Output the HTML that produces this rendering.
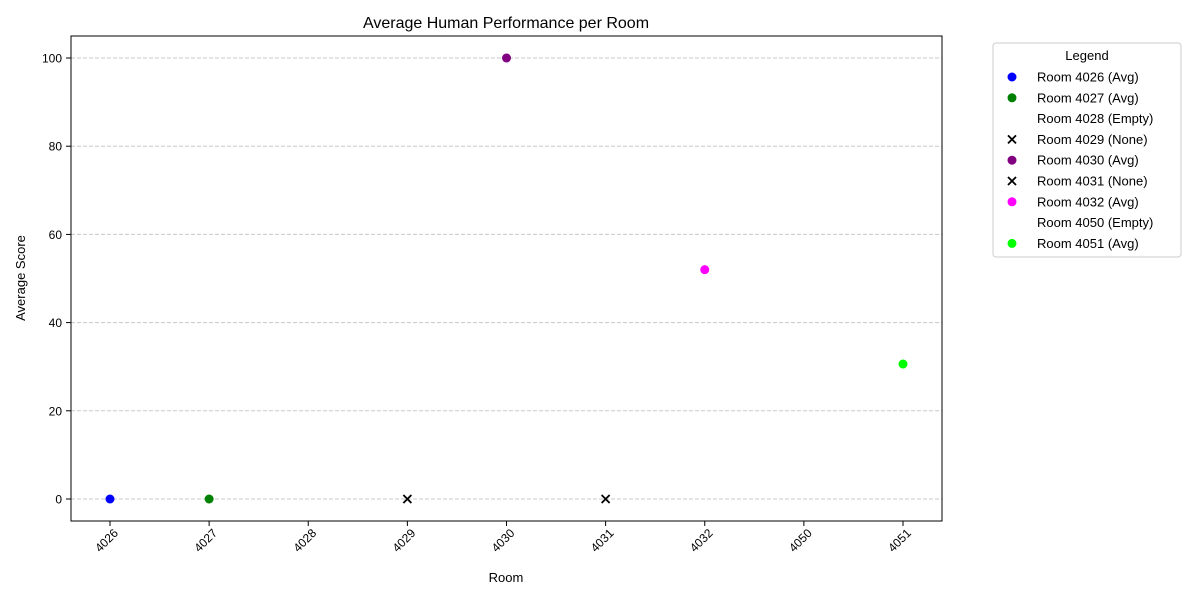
<!DOCTYPE html>
<html><head><meta charset="utf-8"><style>
body{margin:0;background:#fff;font-family:"Liberation Sans","DejaVu Sans",sans-serif}
</style></head><body>
<svg id="chart" width="1200" height="600" xmlns="http://www.w3.org/2000/svg" font-family="Liberation Sans, DejaVu Sans, sans-serif">
<text x="506" y="28" font-size="16" text-anchor="middle">Average Human Performance per Room</text>
<g id="grid"></g>
<rect x="71" y="36" width="871" height="485" fill="none" stroke="#000" stroke-width="1"/>
<g id="axes"></g>
<g id="marks"></g>
<text x="506" y="582" font-size="13" text-anchor="middle">Room</text>
<text x="25" y="278" font-size="13" text-anchor="middle" transform="rotate(-90 25 278)">Average Score</text>
<g id="legend">
<rect x="993" y="43" width="188" height="214" rx="3" fill="#fff" stroke="#ccc"/>
<text x="1087" y="60" font-size="13" text-anchor="middle">Legend</text>
</g>
</svg>
<script>
const categories=["4026","4027","4028","4029","4030","4031","4032","4050","4051"];
const scores=[0,0,null,0,100,0,52,null,30.6];
const kinds=["Avg","Avg","Empty","None","Avg","None","Avg","Empty","Avg"];
const colors=["#0000ff","#008000","none","#000","#800080","#000","#ff00ff","none","#00ff00"];
const yTicks=[0,20,40,60,80,100];
const NS="http://www.w3.org/2000/svg";
const xS=i=>110+i*99.125;
const yS=v=>499-v*4.41;
function mk(tag,attrs,parent){const e=document.createElementNS(NS,tag);for(const k in attrs)e.setAttribute(k,attrs[k]);parent.appendChild(e);return e;}
const grid=document.getElementById('grid'),axes=document.getElementById('axes'),marks=document.getElementById('marks'),leg=document.getElementById('legend');
yTicks.forEach(t=>{const y=yS(t);
 const g=mk('line',{x1:71,x2:942,y1:y,y2:y,stroke:'#c8c8c8','stroke-dasharray':'4,2'},grid);
 
 
 mk('line',{x1:66,x2:71,y1:y,y2:y,stroke:'#000'},axes);
 const tx=mk('text',{x:62,y:y+4.5,'font-size':12,'text-anchor':'end'},axes);tx.textContent=t;
 
 
});
categories.forEach((c,i)=>{const x=xS(i);
 mk('line',{x1:x,x2:x,y1:521,y2:526,stroke:'#000'},axes);
 const ax=x+6, ay=531;
 const tx=mk('text',{x:ax,y:ay+4,'font-size':12,'text-anchor':'end',transform:`rotate(-45 ${ax} ${ay})`},axes);tx.textContent=c;
 
 
});
function marker(kind,color,x,y,parent){
 if(kind==='Avg'){return mk('circle',{cx:x,cy:y,r:4.5,fill:color},parent);}
 if(kind==='None'){const g=mk('g',{},parent);mk('path',{d:`M${x-4} ${y-4}L${x+4} ${y+4}M${x-4} ${y+4}L${x+4} ${y-4}`,stroke:'#000','stroke-width':1.8},g);return g;}
 return null;
}
categories.forEach((c,i)=>{
 if(scores[i]!==null){const m=marker(kinds[i],colors[i],xS(i),yS(scores[i]),marks);
  
  }
 const ly=77+i*20.8;
 const lm=marker(kinds[i],colors[i],1012,ly,leg);
 const lt=mk('text',{x:1037,y:ly+4.5,'font-size':13},leg);lt.textContent=`Room ${c} (${kinds[i]})`;
 
 
});
</script>
</body></html>
